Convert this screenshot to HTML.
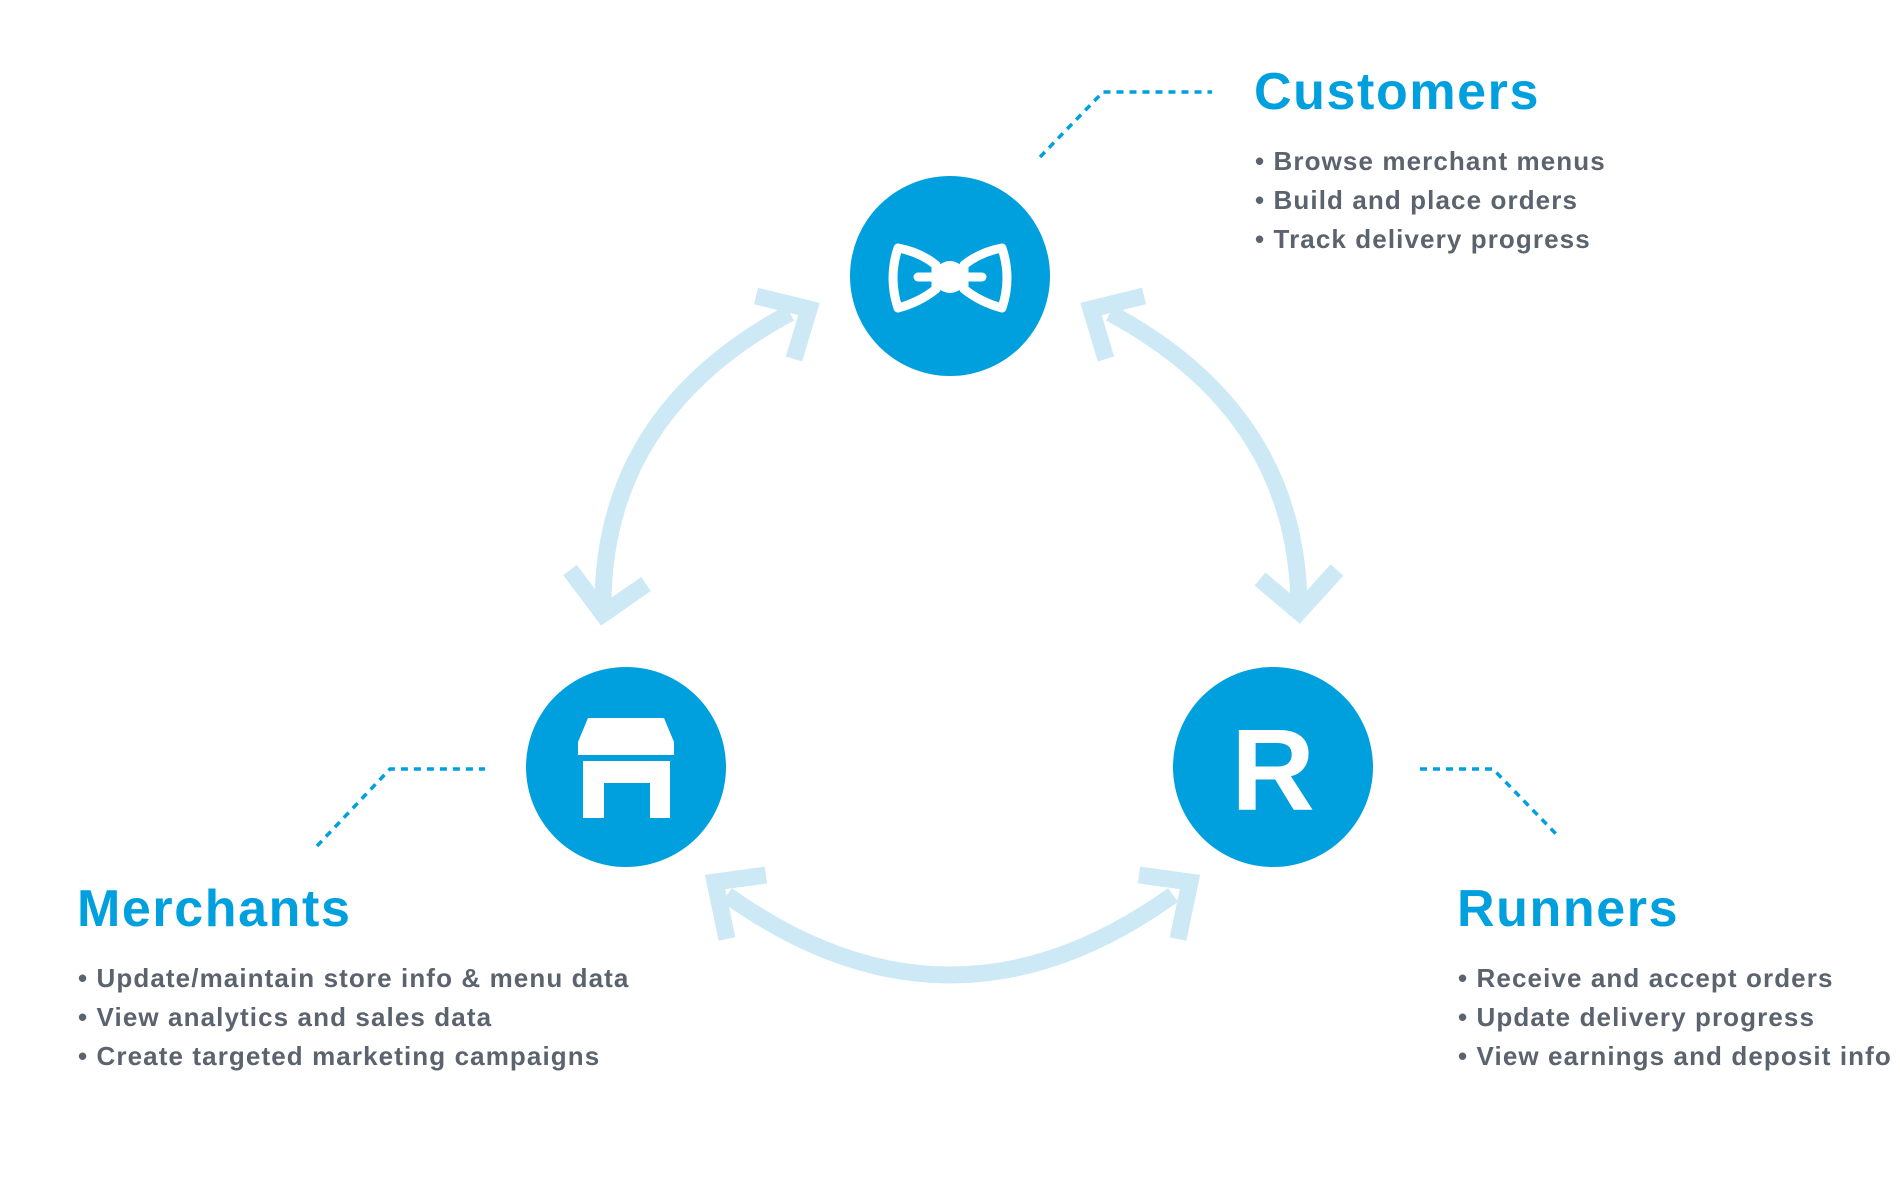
<!DOCTYPE html>
<html><head><meta charset="utf-8"><style>
html,body{margin:0;padding:0;background:#fff;}
body{width:1900px;height:1200px;position:relative;overflow:hidden;font-family:"Liberation Sans",sans-serif;}
.t{position:absolute;color:#00a0de;font-weight:bold;font-size:52px;letter-spacing:1.6px;}
.l{position:absolute;color:#5b636e;font-weight:bold;font-size:26px;letter-spacing:1.1px;line-height:39px;}
</style></head><body>
<svg width="1900" height="1200" style="position:absolute;left:0;top:0">
<g fill="none" stroke="#cde9f5" stroke-width="17">
<path d="M790,313 Q600,415 603,612"/>
<path d="M1110,313 Q1300,415 1299,612"/>
<path d="M727,895 Q950,1055 1173,895"/>
</g>
<g fill="none" stroke="#cde9f5" stroke-width="17" stroke-linejoin="miter" stroke-miterlimit="10">
<polyline points="756,296 809,309 794,359"/>
<polyline points="570,570 603,614 646,584"/>
<polyline points="1144,296 1091,309 1106,359"/>
<polyline points="1260,579 1299,612 1337,570"/>
<polyline points="727,939 715,882 766,875"/>
<polyline points="1139,875 1190,882 1178,939"/>
</g>
<g fill="none" stroke="#00a0de" stroke-width="3.5" stroke-dasharray="7,6">
<polyline points="1040,157 1103,92 1212,92"/>
<polyline points="317,846 390,769 485,769"/>
<polyline points="1420,769 1493,769 1558,836"/>
</g>
<circle cx="950" cy="276" r="100" fill="#00a0de"/>
<circle cx="626" cy="767" r="100" fill="#00a0de"/>
<circle cx="1273" cy="767" r="100" fill="#00a0de"/>
<g fill="none" stroke="#fff" stroke-width="9" stroke-linejoin="round" stroke-linecap="round">
<path d="M898,248 Q920,252 936,265 L936,289 Q920,302 898,308 Q888,278 898,248 Z"/>
<path d="M1002,248 Q980,252 964,265 L964,289 Q980,302 1002,308 Q1012,278 1002,248 Z"/>
<line x1="918" y1="277" x2="982" y2="277"/>
</g>
<circle cx="950" cy="277" r="16" fill="#fff"/>
<g fill="#fff">
<polygon points="588,718 664,718 674,742 674,755 578,755 578,742"/>
<path d="M583,761 H670 V818 H650 V783 H604 V818 H583 Z"/>
</g>
<rect x="604" y="783" width="23" height="35" fill="#00a0de"/>
<text x="1273" y="810" text-anchor="middle" font-family="Liberation Sans" font-weight="bold" font-size="116" fill="#fff">R</text>
</svg>
<div class="t" style="left:1254px;top:62px">Customers</div>
<div class="l" style="left:1255px;top:142px">• Browse merchant menus<br>• Build and place orders<br>• Track delivery progress</div>
<div class="t" style="left:77px;top:879px">Merchants</div>
<div class="l" style="left:78px;top:959px">• Update/maintain store info &amp; menu data<br>• View analytics and sales data<br>• Create targeted marketing campaigns</div>
<div class="t" style="left:1457px;top:879px">Runners</div>
<div class="l" style="left:1458px;top:959px">• Receive and accept orders<br>• Update delivery progress<br>• View earnings and deposit info</div>
</body></html>
